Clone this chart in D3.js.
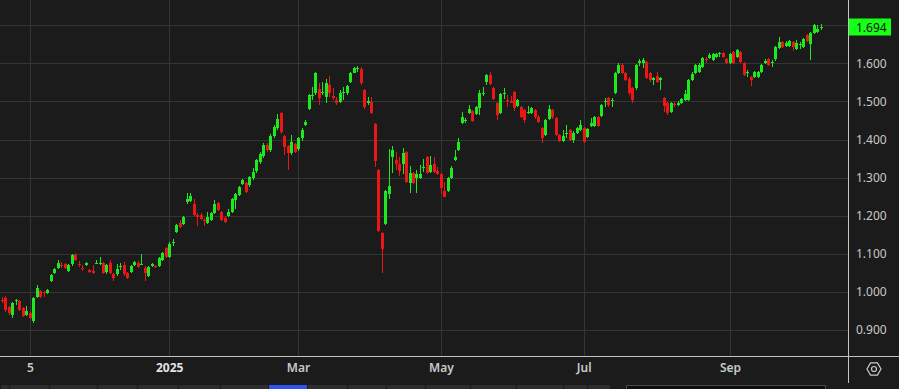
<!DOCTYPE html>
<html>
<head>
<meta charset="utf-8">
<script src="https://cdn.jsdelivr.net/npm/d3@7/dist/d3.min.js"></script>
<style>
  html, body { margin: 0; padding: 0; background: #1b1b1b; overflow: hidden; }
  svg { display: block; font-family: "Noto Sans", sans-serif; }
</style>
</head>
<body>
<script>
// daily candles
var open = [
  .980,.985,.961,.939,.976,.976,.958,.939,.944,.923,
  .986,1.003,.999,.997,1.029,1.049,1.064,1.070,1.073,1.055,
  1.072,1.097,1.074,1.063,1.070,1.057,1.055,1.074,1.073,1.076,
  1.051,1.076,1.046,1.046,1.065,1.070,1.050,1.053,1.070,1.077,
  1.072,1.064,1.042,1.068,1.067,1.069,1.084,1.114,1.092,1.128,
  1.158,1.180,1.178,1.237,1.239,1.232,1.202,1.203,1.190,1.181,
  1.190,1.208,1.234,1.210,1.195,1.199,1.210,1.241,1.254,1.283,
  1.285,1.280,1.298,1.318,1.340,1.358,1.385,1.372,1.408,1.430,
  1.469,1.409,1.383,1.364,1.388,1.374,1.403,1.438,1.480,1.516,
  1.521,1.532,1.521,1.512,1.543,1.514,1.504,1.499,1.521,1.521,
  1.552,1.575,1.586,1.584,1.530,1.496,1.499,1.440,1.320,1.155,
  1.178,1.257,1.353,1.346,1.337,1.337,1.366,1.286,1.311,1.298,
  1.298,1.324,1.353,1.315,1.337,1.318,1.309,1.265,1.265,1.300,
  1.346,1.372,1.444,1.448,1.470,1.475,1.466,1.483,1.519,1.552,
  1.569,1.534,1.496,1.469,1.519,1.503,1.502,1.525,1.489,1.486,
  1.477,1.471,1.469,1.477,1.460,1.429,1.412,1.453,1.477,1.457,
  1.412,1.396,1.414,1.425,1.400,1.418,1.425,1.429,1.406,1.436,
  1.436,1.459,1.461,1.500,1.508,1.500,1.523,1.574,1.595,1.574,
  1.560,1.534,1.534,1.602,1.600,1.604,1.574,1.556,1.566,1.556,
  1.508,1.495,1.473,1.494,1.490,1.495,1.503,1.503,1.556,1.574,
  1.578,1.591,1.611,1.613,1.609,1.617,1.625,1.626,1.610,1.600,
  1.630,1.617,1.630,1.600,1.574,1.563,1.565,1.565,1.578,1.600,
  1.610,1.601,1.610,1.641,1.655,1.645,1.645,1.655,1.637,1.649,
  1.642,1.674,1.650,1.679,1.683,1.692];
var high = [
  .986,.988,.964,.974,.981,.979,.961,.963,.947,.987,
  1.018,1.006,1.002,1.008,1.047,1.063,1.084,1.079,1.076,1.073,
  1.100,1.102,1.081,1.070,1.079,1.060,1.070,1.084,1.091,1.079,
  1.073,1.084,1.049,1.072,1.076,1.079,1.053,1.071,1.082,1.080,
  1.099,1.067,1.069,1.075,1.070,1.091,1.106,1.117,1.130,1.139,
  1.178,1.189,1.200,1.259,1.259,1.244,1.207,1.206,1.194,1.210,
  1.209,1.241,1.237,1.213,1.198,1.217,1.246,1.259,1.279,1.296,
  1.288,1.304,1.324,1.349,1.366,1.390,1.392,1.415,1.437,1.468,
  1.472,1.412,1.386,1.412,1.391,1.406,1.429,1.451,1.520,1.537,
  1.578,1.547,1.552,1.560,1.566,1.534,1.512,1.530,1.538,1.543,
  1.578,1.591,1.594,1.591,1.533,1.512,1.512,1.443,1.323,1.158,
  1.268,1.374,1.383,1.368,1.355,1.377,1.369,1.330,1.314,1.320,
  1.333,1.350,1.356,1.358,1.353,1.328,1.312,1.289,1.301,1.330,
  1.372,1.403,1.473,1.456,1.490,1.478,1.489,1.530,1.537,1.572,
  1.578,1.537,1.499,1.522,1.534,1.517,1.514,1.528,1.507,1.489,
  1.480,1.488,1.486,1.480,1.463,1.432,1.454,1.490,1.480,1.460,
  1.415,1.425,1.438,1.428,1.421,1.432,1.451,1.432,1.430,1.456,
  1.461,1.462,1.493,1.508,1.512,1.508,1.577,1.602,1.600,1.577,
  1.563,1.537,1.598,1.611,1.614,1.607,1.577,1.564,1.578,1.564,
  1.512,1.498,1.499,1.498,1.502,1.508,1.530,1.559,1.578,1.598,
  1.600,1.616,1.617,1.626,1.627,1.627,1.630,1.630,1.613,1.627,
  1.633,1.638,1.633,1.603,1.582,1.566,1.581,1.581,1.598,1.610,
  1.613,1.609,1.646,1.668,1.658,1.659,1.662,1.658,1.661,1.657,
  1.666,1.677,1.682,1.703,1.700,1.703];
var low = [
  .971,.948,.940,.931,.965,.950,.933,.936,.928,.918,
  .983,.984,.987,.994,1.026,1.046,1.061,1.062,1.060,1.052,
  1.069,1.081,1.065,1.055,1.067,1.050,1.046,1.072,1.071,1.046,
  1.048,1.047,1.029,1.043,1.057,1.043,1.034,1.050,1.067,1.063,
  1.070,1.029,1.039,1.065,1.062,1.066,1.081,1.088,1.089,1.120,
  1.155,1.168,1.175,1.232,1.236,1.199,1.174,1.188,1.174,1.178,
  1.187,1.205,1.212,1.186,1.181,1.196,1.207,1.217,1.251,1.280,
  1.260,1.276,1.294,1.313,1.336,1.352,1.368,1.368,1.404,1.426,
  1.415,1.359,1.320,1.360,1.365,1.370,1.397,1.435,1.477,1.504,
  1.518,1.490,1.517,1.495,1.512,1.504,1.490,1.495,1.504,1.518,
  1.549,1.574,1.578,1.543,1.481,1.490,1.466,1.327,1.158,1.049,
  1.175,1.245,1.311,1.320,1.304,1.309,1.286,1.260,1.283,1.259,
  1.296,1.316,1.309,1.312,1.311,1.306,1.257,1.248,1.262,1.297,
  1.343,1.369,1.441,1.443,1.467,1.445,1.463,1.464,1.514,1.543,
  1.543,1.503,1.451,1.466,1.505,1.486,1.495,1.475,1.486,1.457,
  1.442,1.467,1.466,1.455,1.442,1.390,1.409,1.450,1.455,1.409,
  1.393,1.393,1.403,1.396,1.391,1.415,1.422,1.391,1.403,1.433,
  1.433,1.433,1.458,1.486,1.486,1.486,1.520,1.571,1.571,1.553,
  1.518,1.496,1.530,1.593,1.587,1.558,1.551,1.543,1.549,1.530,
  1.473,1.463,1.470,1.486,1.487,1.492,1.500,1.500,1.553,1.571,
  1.574,1.588,1.601,1.610,1.606,1.614,1.617,1.613,1.597,1.597,
  1.597,1.614,1.601,1.566,1.563,1.541,1.562,1.562,1.575,1.597,
  1.592,1.591,1.607,1.638,1.640,1.642,1.642,1.632,1.635,1.637,
  1.639,1.656,1.609,1.676,1.680,1.687];
var close = [
  .977,.952,.945,.971,.979,.952,.937,.950,.931,.984,
  1.010,.987,.996,1.005,1.044,1.060,1.076,1.067,1.063,1.070,
  1.097,1.084,1.072,1.061,1.076,1.053,1.049,1.076,1.076,1.049,
  1.070,1.050,1.037,1.060,1.068,1.046,1.037,1.068,1.079,1.066,
  1.074,1.049,1.066,1.072,1.065,1.088,1.103,1.091,1.127,1.131,
  1.175,1.171,1.197,1.245,1.252,1.202,1.197,1.191,1.187,1.197,
  1.206,1.232,1.215,1.189,1.184,1.210,1.243,1.256,1.276,1.293,
  1.263,1.301,1.315,1.346,1.362,1.385,1.372,1.410,1.432,1.455,
  1.420,1.381,1.364,1.394,1.368,1.403,1.425,1.447,1.517,1.518,
  1.574,1.510,1.525,1.547,1.521,1.510,1.497,1.523,1.525,1.540,
  1.575,1.587,1.588,1.547,1.484,1.502,1.469,1.344,1.160,1.112,
  1.265,1.278,1.372,1.337,1.318,1.364,1.289,1.311,1.285,1.309,
  1.309,1.327,1.313,1.333,1.315,1.309,1.274,1.250,1.298,1.324,
  1.355,1.394,1.460,1.451,1.479,1.448,1.486,1.521,1.522,1.569,
  1.546,1.506,1.464,1.519,1.521,1.500,1.497,1.482,1.504,1.460,
  1.451,1.473,1.482,1.458,1.445,1.403,1.451,1.479,1.458,1.412,
  1.396,1.409,1.416,1.399,1.418,1.429,1.438,1.394,1.427,1.444,
  1.458,1.436,1.490,1.502,1.490,1.503,1.574,1.595,1.574,1.556,
  1.521,1.504,1.595,1.605,1.609,1.561,1.556,1.561,1.552,1.561,
  1.488,1.469,1.495,1.492,1.495,1.505,1.519,1.556,1.572,1.595,
  1.595,1.613,1.609,1.622,1.624,1.624,1.627,1.617,1.600,1.624,
  1.600,1.635,1.604,1.569,1.576,1.556,1.578,1.578,1.595,1.607,
  1.595,1.603,1.643,1.657,1.643,1.654,1.659,1.643,1.652,1.651,
  1.663,1.659,1.679,1.700,1.689,1.694];

// x axis: candle index of each labelled month start
var tickIdx = [8, 48, 85, 126, 167, 209];
var tickLabels = ["5", "2025", "Mar", "May", "Jul", "Sep"];
var yTicks = [0.9, 1.0, 1.1, 1.2, 1.3, 1.4, 1.5, 1.6];
var yGrid = [0.9, 1.0, 1.1, 1.2, 1.3, 1.4, 1.5, 1.6, 1.7];

var width = 899, height = 389,
    plotW = 848, plotH = 356;

var up = "#1ee81e", down = "#ec1616";

var data = open.map(function(o, i) {
  return {i: i, o: o, h: high[i], l: low[i], c: close[i]};
});

var x = d3.scaleLinear()
    .domain([0, data.length - 1])
    .range([2, 820.5]);

var y = d3.scaleLinear()
    .domain([0.9, 1.7])
    .range([330, 25.2]);

var svg = d3.select("body").append("svg")
    .attr("width", width)
    .attr("height", height);

svg.append("rect")
    .attr("width", width).attr("height", height)
    .attr("fill", "#1b1b1b");

// grid
svg.append("g").selectAll("line")
    .data(yGrid)
  .enter().append("line")
    .attr("x1", 0).attr("x2", plotW)
    .attr("y1", function(d) { return Math.round(y(d)) + 0.5; })
    .attr("y2", function(d) { return Math.round(y(d)) + 0.5; })
    .attr("stroke", "#353535");

svg.append("g").selectAll("line")
    .data(tickIdx)
  .enter().append("line")
    .attr("x1", function(d) { return Math.round(x(d)) + 0.5; })
    .attr("x2", function(d) { return Math.round(x(d)) + 0.5; })
    .attr("y1", 0).attr("y2", plotH)
    .attr("stroke", "#353535");

// candles
var plot = svg.append("g");
var candle = plot.selectAll(".candle")
    .data(data)
  .enter().append("g")
    .attr("class", "candle")
    .attr("fill", function(d) { return d.c >= d.o ? up : down; });

candle.append("rect")
    .attr("x", function(d) { return Math.round(x(d.i)); })
    .attr("width", 1)
    .attr("y", function(d) { return Math.round(y(d.h)); })
    .attr("height", function(d) { return Math.max(1, Math.round(y(d.l)) - Math.round(y(d.h))); });

candle.append("rect")
    .attr("x", function(d) { return Math.round(x(d.i)) - 1; })
    .attr("width", 3)
    .attr("y", function(d) { return Math.round(y(Math.max(d.o, d.c))); })
    .attr("height", function(d) {
      return Math.max(1, Math.round(y(Math.min(d.o, d.c))) - Math.round(y(Math.max(d.o, d.c))));
    });

// right axis
var yAxis = svg.append("g")
    .attr("transform", "translate(" + plotW + ",0)")
    .call(d3.axisRight(y).tickValues(yTicks).tickFormat(d3.format(".3f")).tickSize(0).tickPadding(8));
yAxis.select(".domain").remove();
yAxis.selectAll("text")
    .attr("fill", "#c9c9c9")
    .style("font-size", "12px")
    .style("font-family", "'Noto Sans', sans-serif");

// bottom axis
var xAxis = svg.append("g")
    .attr("transform", "translate(0," + plotH + ")")
    .call(d3.axisBottom(x).tickValues(tickIdx)
      .tickFormat(function(d, i) { return tickLabels[i]; })
      .tickSize(0).tickPadding(7));
xAxis.select(".domain").remove();
xAxis.selectAll("text")
    .attr("fill", function(d, i) { return tickLabels[i] === "2025" ? "#e4e4e4" : "#c9c9c9"; })
    .style("font-weight", function(d, i) { return tickLabels[i] === "2025" ? "bold" : "600"; })
    .style("font-size", "12px")
    .style("font-family", "'Noto Sans', sans-serif");

// frame lines
svg.append("line")
    .attr("x1", 0).attr("x2", width)
    .attr("y1", plotH + 0.5).attr("y2", plotH + 0.5)
    .attr("stroke", "#c4c4c4");
svg.append("line")
    .attr("x1", plotW + 0.5).attr("x2", plotW + 0.5)
    .attr("y1", 0).attr("y2", 383)
    .attr("stroke", "#c4c4c4");

// last price tag
var last = close[close.length - 1];
svg.append("rect")
    .attr("x", 849).attr("y", Math.round(y(last)) - 8.5)
    .attr("width", 42).attr("height", 17)
    .attr("fill", "#16ff16");
svg.append("text")
    .attr("x", 856).attr("y", y(last))
    .attr("dy", "0.35em")
    .attr("fill", "#111")
    .style("font-size", "12px")
    .text(d3.format(".3f")(last));

// settings icon
var cx = 874, cy = 369, r = 7;
svg.append("path")
    .attr("d", d3.range(6).map(function(k) {
      var a = k * Math.PI / 3;
      return (k ? "L" : "M") + (cx + r * Math.cos(a)) + "," + (cy + r * Math.sin(a));
    }).join("") + "Z")
    .attr("fill", "none").attr("stroke", "#c9c9c9").attr("stroke-width", 1.2);
svg.append("circle")
    .attr("cx", cx).attr("cy", cy).attr("r", 2.5)
    .attr("fill", "none").attr("stroke", "#c9c9c9").attr("stroke-width", 1.2);

// tab strip at the very bottom
var tabs = [0, 9, 49, 97, 137, 178, 220, 268, 307, 347, 386, 425, 470, 516, 563, 587, 610];
var strip = svg.append("g");
for (var k = 0; k < tabs.length - 1; k++) {
  strip.append("rect")
      .attr("x", tabs[k] + 1).attr("y", 385)
      .attr("width", tabs[k + 1] - tabs[k] - 1).attr("height", 4)
      .attr("fill", tabs[k] === 268 ? "#2f52f5" : "#2d2d2d");
}
strip.append("rect")
    .attr("x", 626.5).attr("y", 385.5)
    .attr("width", 199).attr("height", 5)
    .attr("fill", "#0e0e0e").attr("stroke", "#4a4a4a");
</script>
</body>
</html>
